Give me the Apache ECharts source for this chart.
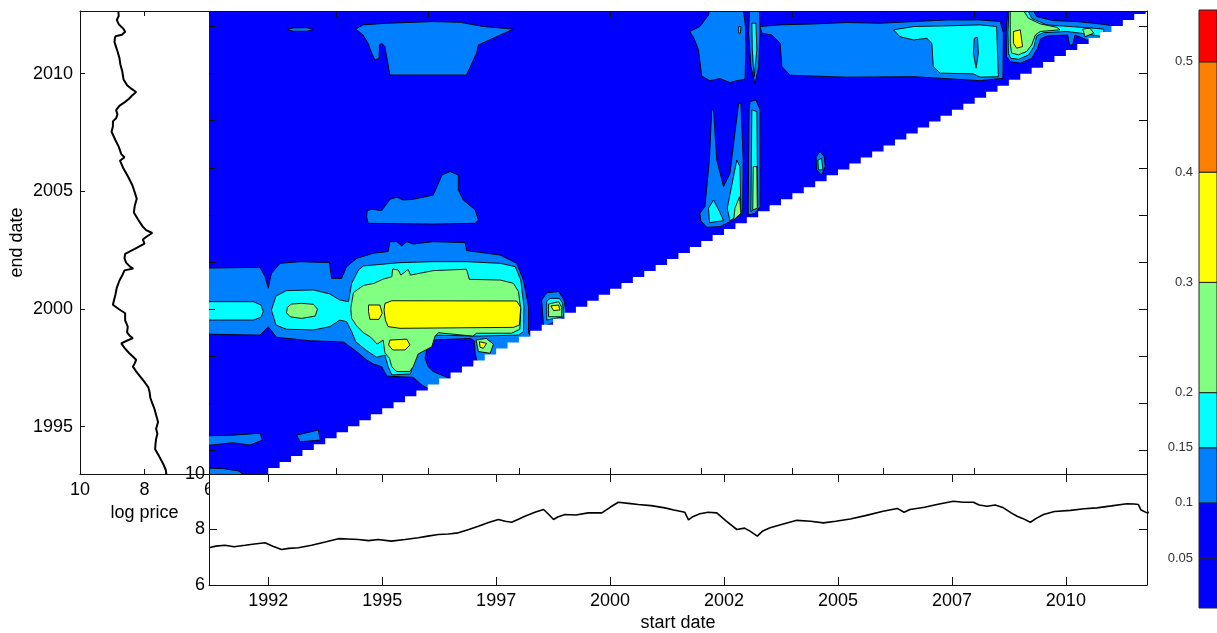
<!DOCTYPE html>
<html><head><meta charset="utf-8">
<script src="https://cdn.jsdelivr.net/npm/echarts@6/dist/echarts.min.js"></script>
<style>html,body{margin:0;padding:0;background:#fff}#c{width:1217px;height:633px}</style>
</head><body><div id="c"></div>
<script>
// ---------------- data ----------------
const startRange = [1991.2, 2011.78];
const endRange = [1992.99, 2012.66];
const priceRange = [6, 10];
const mainXTicks = [1992, 1994, 1996, 1998, 2000, 2002, 2004, 2006, 2008, 2010];
const mainYTicks = [1994, 1996, 1998, 2000, 2002, 2004, 2006, 2008, 2010, 2012];
const startLabelTicks = [1992.5, 1995, 1997.5, 2000, 2002.5, 2005, 2007.5, 2010];
const endLabelTicks = [1995, 2000, 2005, 2010];
const levels = [0.05, 0.1, 0.15, 0.2, 0.3, 0.4, 0.5];
const cbBounds = [0.0047, 0.05, 0.1, 0.15, 0.2, 0.3, 0.4, 0.5, 0.547];
const levelColors = ['#0000FF', '#0000FF', '#0080FF', '#00FFFF', '#80FF80', '#FFFF00', '#FF8000', '#FF0000'];

const priceYears = [1991.20,1991.35,1991.55,1991.75,1991.99,1992.20,1992.43,1992.60,1992.79,1992.95,
 1993.16,1993.45,1993.75,1994.04,1994.25,1994.48,1994.70,1994.91,1995.20,1995.50,
 1995.79,1996.00,1996.23,1996.45,1996.67,1996.90,1997.11,1997.35,1997.55,1997.70,
 1997.84,1998.00,1998.13,1998.35,1998.54,1998.65,1998.76,1998.85,1999.01,1999.25,
 1999.52,1999.82,2000.00,2000.18,2000.40,2000.62,2000.90,2001.20,2001.40,2001.64,
 2001.72,2001.80,2001.97,2002.15,2002.34,2002.55,2002.78,2002.95,2003.07,2003.23,
 2003.35,2003.51,2003.80,2004.10,2004.40,2004.68,2004.95,2005.27,2005.60,2005.99,
 2006.30,2006.45,2006.58,2006.90,2007.17,2007.53,2007.75,2007.97,2008.10,2008.27,
 2008.45,2008.63,2008.80,2008.93,2009.05,2009.22,2009.35,2009.51,2009.75,2010.10,
 2010.40,2010.68,2011.00,2011.34,2011.50,2011.59,2011.65,2011.78,2011.90,2012.10,
 2012.28,2012.45,2012.66];
const logPrice = [7.34,7.40,7.43,7.38,7.43,7.48,7.52,7.40,7.28,7.32,
 7.34,7.43,7.55,7.67,7.66,7.64,7.60,7.64,7.58,7.64,
 7.70,7.76,7.82,7.84,7.88,8.00,8.12,8.26,8.36,8.30,
 8.26,8.38,8.48,8.62,8.72,8.55,8.36,8.45,8.54,8.52,
 8.60,8.60,8.80,8.98,8.94,8.90,8.86,8.78,8.70,8.62,
 8.35,8.45,8.57,8.62,8.60,8.30,8.00,8.05,7.94,7.76,
 7.95,8.06,8.20,8.33,8.30,8.24,8.30,8.38,8.50,8.66,
 8.76,8.62,8.72,8.80,8.90,9.02,8.98,8.98,8.88,8.84,
 8.88,8.78,8.60,8.48,8.40,8.26,8.40,8.54,8.65,8.69,
 8.75,8.78,8.85,8.93,8.92,8.90,8.70,8.60,8.65,8.80,
 8.86,8.80,8.81];

// contour regions: [start date, end date] vertices
const lbTopEllipse = [[1992.91,2011.87],[1993.05,2011.94],[1993.35,2011.95],[1993.49,2011.87],[1993.35,2011.80],[1993.05,2011.80]];
const lbTopBlob = [[1994.42,2011.89],[1994.58,2012.07],[1995.10,2012.14],[1996.12,2012.21],[1996.71,2012.18],[1997.22,2012.0],[1997.88,2011.89],[1997.59,2011.64],[1997.11,2011.22],[1997.07,2010.87],[1996.85,2009.94],[1995.17,2009.94],[1995.06,2011.15],[1994.99,2011.29],[1994.94,2011.22],[1994.93,2010.65],[1994.84,2010.58],[1994.77,2010.87],[1994.69,2011.29],[1994.58,2011.64]];
const lbMidBlob = [[1994.67,2004.18],[1994.77,2004.24],[1994.99,2004.18],[1995.17,2004.66],[1995.32,2004.75],[1995.46,2004.63],[1995.68,2004.66],[1996.12,2004.84],[1996.25,2005.41],[1996.31,2005.69],[1996.49,2005.84],[1996.67,2005.69],[1996.67,2005.06],[1996.78,2004.63],[1997.04,2004.21],[1997.11,2003.78],[1997.04,2003.64],[1996.12,2003.61],[1994.69,2003.64],[1994.66,2003.92]];
const lbBand = [[1990.9,2001.73],[1992.32,2001.77],[1992.43,2001.37],[1992.50,2000.88],[1992.57,2001.52],[1992.76,2001.94],[1993.20,2002.01],[1993.84,2001.97],[1993.89,2001.30],[1994.11,2001.30],[1994.22,2001.80],[1994.44,2002.15],[1994.81,2002.37],[1995.13,2002.44],[1995.17,2002.86],[1995.32,2002.86],[1995.43,2002.68],[1995.54,2002.86],[1995.68,2002.76],[1996.12,2002.86],[1996.82,2002.82],[1996.85,2002.48],[1997.59,2002.29],[1997.95,2001.94],[1998.10,2001.23],[1998.21,2000.10],[1998.21,1998.97],[1998.68,1997.83],[1996.71,1995.85],[1995.87,1996.77],[1995.68,1997.10],[1995.39,1997.12],[1995.10,1997.15],[1994.99,1997.55],[1994.81,1997.66],[1994.66,1997.83],[1994.44,1998.19],[1994.29,1998.40],[1994.15,1998.60],[1993.42,1998.65],[1992.68,1998.80],[1992.50,1999.25],[1992.32,1998.89],[1990.9,1998.94]];
const darkPocket = [[1995.94,1997.90],[1995.99,1998.47],[1996.09,1998.68],[1996.93,1998.75],[1997.02,1998.65],[1997.04,1998.12],[1997.09,1997.69],[1996.56,1996.98],[1996.12,1997.34],[1996.01,1997.55]];
const cyBandLeft = [[1990.9,2000.31],[1992.17,2000.31],[1992.34,2000.17],[1992.39,1999.89],[1992.34,1999.65],[1992.17,1999.53],[1990.9,1999.53]];
const cyBand = [[1992.57,1999.96],[1992.67,2000.55],[1992.90,2000.78],[1993.49,2000.81],[1993.85,2000.64],[1994.07,2000.38],[1994.26,2000.31],[1994.33,2001.09],[1994.48,2001.66],[1994.59,2001.83],[1995.39,2001.97],[1996.12,2002.01],[1996.85,2002.01],[1997.59,2001.94],[1997.92,2001.80],[1998.04,2001.23],[1998.11,2000.10],[1998.10,1999.04],[1997.99,1998.89],[1997.07,1998.85],[1996.20,1998.89],[1996.03,1998.82],[1995.90,1998.54],[1995.79,1998.19],[1995.68,1997.69],[1995.62,1997.24],[1995.21,1997.20],[1995.13,1997.55],[1995.06,1998.04],[1994.88,1997.95],[1994.66,1998.23],[1994.42,1998.61],[1994.33,1999.04],[1994.22,1999.46],[1994.07,1999.53],[1993.85,1999.25],[1993.49,1999.11],[1992.90,1999.14],[1992.67,1999.32]];
const grBand = [[1994.31,2000.03],[1994.37,2000.70],[1994.59,2001.0],[1994.82,2001.09],[1995.01,2001.26],[1995.21,2001.37],[1995.23,2001.70],[1995.35,2001.66],[1995.41,2001.44],[1995.57,2001.68],[1995.62,2001.44],[1995.83,2001.52],[1996.12,2001.63],[1996.85,2001.69],[1996.91,2001.26],[1997.59,2001.23],[1997.88,2001.09],[1997.99,2000.74],[1998.04,1999.96],[1998.02,1999.14],[1997.84,1998.97],[1997.07,1998.97],[1996.99,1998.85],[1996.23,1998.99],[1996.16,1998.85],[1996.09,1998.40],[1995.79,1998.09],[1995.68,1997.55],[1995.60,1997.34],[1995.32,1997.34],[1995.21,1997.55],[1995.16,1997.90],[1995.06,1998.14],[1995.02,1998.68],[1994.89,1998.51],[1994.75,1998.80],[1994.59,1998.99],[1994.44,1999.28],[1994.33,1999.60]];
const grEllipse = [[1992.92,2000.07],[1993.01,2000.21],[1993.23,2000.24],[1993.49,2000.20],[1993.58,1999.99],[1993.53,1999.70],[1993.23,1999.60],[1992.98,1999.67],[1992.90,1999.84]];
const yeBar = [[1995.06,2000.24],[1995.21,2000.35],[1997.95,2000.34],[1998.04,2000.07],[1998.01,1999.32],[1997.88,1999.22],[1995.39,1999.18],[1995.13,1999.25],[1995.07,1999.53],[1995.04,1999.96]];
const yeSquare = [[1994.70,2000.17],[1994.95,2000.17],[1995.0,1999.82],[1994.93,1999.56],[1994.73,1999.56],[1994.70,1999.89]];
const yeLow = [[1995.17,1998.68],[1995.54,1998.72],[1995.61,1998.47],[1995.50,1998.26],[1995.23,1998.26],[1995.14,1998.47]];
const grNearDiag = [[1997.06,1998.68],[1997.28,1998.75],[1997.44,1998.51],[1997.37,1998.12],[1997.11,1998.19]];
const yeNearDiag = [[1997.13,1998.61],[1997.29,1998.54],[1997.22,1998.33],[1997.15,1998.37]];
const lbSmallBlob = [[1998.50,2000.38],[1998.61,2000.69],[1998.87,2000.74],[1998.99,2000.38],[1999.05,1999.67],[1998.54,1999.25]];
const cySmallBlob = [[1998.61,2000.31],[1998.68,2000.45],[1998.89,2000.45],[1998.96,2000.24],[1998.98,1999.67],[1998.61,1999.53]];
const grSmallBlob = [[1998.65,2000.21],[1998.87,2000.31],[1998.94,2000.07],[1998.94,1999.67],[1998.65,1999.67]];
const yeSmallBlob = [[1998.70,2000.13],[1998.87,2000.17],[1998.90,1999.96],[1998.76,1999.93]];
const lbLowLeft = [[1990.9,1994.60],[1991.73,1994.64],[1992.32,1994.72],[1992.37,1994.43],[1992.10,1994.22],[1991.73,1994.32],[1990.9,1994.15]];
const lbLowMid = [[1993.12,1994.64],[1993.60,1994.86],[1993.64,1994.43],[1993.20,1994.36]];
const lbCorner = [[1990.9,1993.25],[1991.5,1993.22],[1991.85,1993.12],[1992.0,1992.9],[1990.9,1992.9]];
const lbRightBand = [[2003.29,2012.0],[2003.73,2012.07],[2004.46,2012.11],[2005.19,2012.17],[2005.92,2012.14],[2006.66,2012.21],[2007.39,2012.28],[2008.12,2012.28],[2008.56,2012.21],[2008.63,2011.72],[2008.62,2009.80],[2008.12,2009.70],[2006.66,2009.87],[2005.19,2009.85],[2003.95,2009.93],[2003.77,2010.30],[2003.73,2011.29],[2003.55,2011.64],[2003.33,2011.72]];
const lbLobe = [[2001.75,2011.79],[2001.97,2012.0],[2002.16,2012.49],[2002.19,2012.8],[2002.92,2012.8],[2002.97,2012.0],[2002.98,2011.01],[2002.96,2009.76],[2002.78,2009.70],[2002.63,2009.62],[2002.41,2009.79],[2002.19,2009.70],[2002.01,2009.90],[2001.94,2011.01],[2001.84,2011.50]];
const lbStreak = [[2003.06,2012.8],[2003.28,2012.8],[2003.29,2011.72],[2003.26,2010.30],[2003.18,2009.56],[2003.09,2010.30],[2003.04,2011.72]];
const cyStreak = [[2003.11,2012.14],[2003.20,2012.14],[2003.22,2011.01],[2003.16,2009.87],[2003.12,2011.01]];
const cySmallTop = [[2002.82,2012.0],[2002.87,2012.0],[2002.86,2011.72],[2002.82,2011.72]];
const cyTopRight = [[2006.22,2011.86],[2006.66,2012.0],[2007.39,2012.03],[2008.12,2012.07],[2008.48,2012.0],[2008.52,2009.87],[2008.12,2009.85],[2007.97,2009.99],[2007.24,2010.02],[2007.09,2010.30],[2007.06,2011.29],[2006.95,2011.50],[2006.66,2011.43],[2006.36,2011.57]];
const lbInCyan = [[2007.99,2011.50],[2008.06,2011.55],[2008.08,2010.87],[2008.03,2010.23],[2007.97,2010.87]];
const lbTwoProng = [[2001.97,2004.07],[2002.08,2004.35],[2002.18,2006.33],[2002.23,2008.46],[2002.27,2008.46],[2002.34,2006.33],[2002.49,2005.20],[2002.63,2005.77],[2002.82,2008.74],[2002.87,2008.74],[2002.92,2006.33],[2002.91,2004.07],[2002.63,2003.71],[2002.41,2003.50],[2002.12,2003.47],[2001.99,2003.75]];
const cyProngA = [[2002.16,2004.28],[2002.27,2004.63],[2002.40,2004.14],[2002.49,2003.75],[2002.18,2003.67]];
const cyProngB = [[2002.57,2004.28],[2002.78,2006.33],[2002.85,2006.05],[2002.87,2004.07],[2002.63,2003.75]];
const grProng = [[2002.74,2004.28],[2002.84,2004.77],[2002.87,2004.07],[2002.71,2003.78]];
const lbStreak3 = [[2003.07,2008.81],[2003.20,2008.88],[2003.29,2008.46],[2003.29,2004.35],[2003.18,2004.07],[2003.03,2003.99],[2003.05,2008.46]];
const cyStreak3 = [[2003.11,2008.46],[2003.22,2008.39],[2003.24,2004.35],[2003.09,2004.14]];
const grStreak3 = [[2003.14,2006.05],[2003.22,2006.05],[2003.23,2004.28],[2003.13,2004.21]];
const lbSpot = [[2004.52,2006.47],[2004.61,2006.69],[2004.70,2006.47],[2004.72,2006.05],[2004.64,2005.69],[2004.53,2005.91]];
const cySpot = [[2004.56,2006.33],[2004.64,2006.40],[2004.67,2005.91],[2004.57,2005.91]];
const lbCornerTR = [[2008.73,2012.8],[2009.25,2012.8],[2009.36,2012.42],[2009.73,2012.25],[2010.24,2012.21],[2010.75,2012.11],[2011.04,2012.03],[2011.04,2011.29],[2010.46,2011.43],[2010.20,2011.64],[2010.15,2011.22],[2010.08,2011.22],[2010.04,2011.64],[2009.58,2011.60],[2009.44,2011.46],[2009.38,2011.08],[2009.25,2010.65],[2009.0,2010.44],[2008.78,2010.51],[2008.70,2010.72],[2008.69,2011.72]];
const cyCornerTR = [[2008.75,2012.8],[2009.14,2012.8],[2009.25,2012.35],[2009.58,2012.07],[2010.09,2012.0],[2010.61,2011.93],[2010.83,2011.89],[2010.83,2011.57],[2010.31,2011.72],[2010.02,2011.79],[2009.51,2011.74],[2009.36,2011.60],[2009.30,2011.15],[2009.18,2010.79],[2008.96,2010.61],[2008.79,2010.65],[2008.74,2010.87],[2008.73,2011.72]];
const grCornerTR = [[2008.78,2012.8],[2009.03,2012.8],[2009.18,2012.35],[2009.44,2012.11],[2009.80,2011.97],[2009.87,2011.86],[2009.44,2011.79],[2009.33,2011.64],[2009.25,2011.22],[2009.14,2010.94],[2008.96,2010.80],[2008.81,2010.87],[2008.78,2011.29]];
const grTail = [[2010.37,2011.89],[2010.53,2011.93],[2010.61,2011.72],[2010.42,2011.57]];
const yeCornerTR = [[2008.85,2011.79],[2009.0,2011.86],[2009.05,2011.15],[2008.92,2011.08],[2008.85,2011.29]];

// domain edge (no data below the diagonal)
const diagFrom = [1992.25, 1992.99];
const diagTo = [2011.63, 2012.66];
const gridStep = 0.25;

// ---------------- build ----------------
const FONT = '"Liberation Sans", Arial, Helvetica, sans-serif';
const ink = '#111';
const regions = [];
function add(pts, lvl) { regions.push({pts, fill: levelColors[lvl], stroke: '#000', lw: 0.9}); }
regions.push({pts: [[startRange[0]-1, endRange[0]-1],[startRange[1]+1, endRange[0]-1],[startRange[1]+1, endRange[1]+1],[startRange[0]-1, endRange[1]+1]], fill: levelColors[1], stroke: null, lw: 0});
[lbTopEllipse, lbTopBlob, lbMidBlob, lbBand, lbSmallBlob, lbLowLeft, lbLowMid, lbCorner, lbRightBand, lbLobe, lbStreak,
 lbTwoProng, lbStreak3, lbSpot, lbCornerTR].forEach(p => add(p, 2));
add(darkPocket, 1);
[cyBandLeft, cyBand, cySmallBlob, cyStreak, cySmallTop, cyTopRight, cyProngA, cyProngB, cyStreak3, cySpot, cyCornerTR].forEach(p => add(p, 3));
add(lbInCyan, 2);
[grBand, grEllipse, grNearDiag, grSmallBlob, grProng, grStreak3, grCornerTR, grTail].forEach(p => add(p, 4));
[yeBar, yeSquare, yeLow, yeNearDiag, yeSmallBlob, yeCornerTR].forEach(p => add(p, 5));
// white mask below the staircase diagonal
(function(){
  const slope = (diagTo[1]-diagFrom[1])/(diagTo[0]-diagFrom[0]);
  const pts = [[startRange[1]+2, endRange[0]-2], [diagFrom[0], endRange[0]-2]];
  let s = diagFrom[0], e = diagFrom[1];
  pts.push([s, e]);
  while (e < endRange[1] + 0.5) {
    const s2 = s + gridStep, e2 = diagFrom[1] + (s2 - diagFrom[0]) * slope;
    pts.push([s2, e]); pts.push([s2, e2]);
    s = s2; e = e2;
  }
  pts.push([startRange[1]+2, e]);
  regions.push({pts, fill: '#ffffff', stroke: null, lw: 0});
})();

const cbBands = [];
for (let i = 0; i < cbBounds.length - 1; i++) cbBands.push([cbBounds[i], cbBounds[i+1], i]);

function ax(o) {
  const base = {
    type: 'value', z: 10, scale: true,
    splitLine: {show: false},
    axisLine: {show: true, onZero: false, lineStyle: {color: ink, width: 1}},
    axisTick: {show: true, inside: true, length: 6, lineStyle: {color: ink, width: 1}},
    axisLabel: {show: false, color: '#000', fontSize: 18, fontFamily: FONT}
  };
  for (const k in o) {
    if (base[k] && typeof base[k] === 'object' && !Array.isArray(base[k])) base[k] = Object.assign({}, base[k], o[k]);
    else base[k] = o[k];
  }
  return base;
}
const plain = v => String(v);

const option = {
  backgroundColor: '#fff',
  animation: false,
  textStyle: {fontFamily: FONT},
  grid: [
    {left: 209, top: 11, width: 938, height: 463},
    {left: 80, top: 11, width: 129, height: 463},
    {left: 209, top: 474, width: 938, height: 112},
    {left: 1199, top: 10, width: 40, height: 598}
  ],
  // white face of the lower axes box (hides the part of the left panel's "6" that runs under it)
  graphic: [{type: 'rect', z: 3, silent: true, shape: {x: 209.5, y: 475, width: 937, height: 110}, style: {fill: '#fff'}}],
  xAxis: [
    ax({gridIndex: 0, position: 'bottom', min: startRange[0], max: startRange[1], axisLine: {show: false}, axisTick: {customValues: mainXTicks}}),
    ax({gridIndex: 0, position: 'top', min: startRange[0], max: startRange[1], axisTick: {customValues: mainXTicks}}),
    ax({gridIndex: 1, position: 'bottom', z: 2, min: priceRange[0], max: priceRange[1], interval: 2, inverse: true,
        axisTick: {length: 5}, axisLabel: {show: true, margin: 7, showMinLabel: true, showMaxLabel: true, formatter: plain},
        name: 'log price', nameLocation: 'middle', nameGap: 30, nameTextStyle: {fontSize: 18, color: '#000', fontFamily: FONT}}),
    ax({gridIndex: 1, position: 'top', min: priceRange[0], max: priceRange[1], interval: 2, inverse: true, axisTick: {length: 5}}),
    ax({gridIndex: 2, position: 'bottom', min: startRange[0], max: startRange[1],
        axisTick: {customValues: startLabelTicks, length: 8},
        axisLabel: {show: true, margin: 7, customValues: startLabelTicks, formatter: v => String(Math.floor(v))},
        name: 'start date', nameLocation: 'middle', nameGap: 29, nameTextStyle: {fontSize: 18, color: '#000', fontFamily: FONT}}),
    ax({gridIndex: 2, position: 'top', min: startRange[0], max: startRange[1], axisTick: {customValues: startLabelTicks, length: 8}}),
    {type: 'value', gridIndex: 3, min: 0, max: 1, show: false}
  ],
  yAxis: [
    ax({gridIndex: 0, position: 'left', min: endRange[0], max: endRange[1], axisLine: {show: false}, axisTick: {customValues: mainYTicks}}),
    ax({gridIndex: 0, position: 'right', min: endRange[0], max: endRange[1], axisTick: {customValues: mainYTicks, length: 8}}),
    ax({gridIndex: 1, position: 'left', min: endRange[0], max: endRange[1],
        axisTick: {customValues: endLabelTicks, length: 5},
        axisLabel: {show: true, margin: 7, customValues: endLabelTicks, formatter: plain},
        name: 'end date', nameLocation: 'middle', nameRotate: 90, nameGap: 54, nameTextStyle: {fontSize: 18, color: '#000', fontFamily: FONT}}),
    ax({gridIndex: 2, position: 'left', min: priceRange[0], max: priceRange[1], interval: 2,
        axisTick: {length: 8}, axisLabel: {show: true, margin: 4, showMinLabel: true, showMaxLabel: true, formatter: plain}}),
    ax({gridIndex: 2, position: 'right', min: priceRange[0], max: priceRange[1], interval: 2, axisTick: {length: 8}}),
    {type: 'value', gridIndex: 3, min: cbBounds[0], max: cbBounds[cbBounds.length-1], position: 'left', z: 10,
     axisLine: {show: false}, axisTick: {show: false}, splitLine: {show: false},
     axisLabel: {show: true, customValues: levels, margin: 6, color: '#333', fontSize: 13, fontFamily: FONT,
                 formatter: v => String(+v.toFixed(2))}}
  ],
  series: [
    {
      type: 'custom', xAxisIndex: 0, yAxisIndex: 0, clip: true, silent: true, z: 2,
      data: regions.map((r, i) => [r.pts[0][0], r.pts[0][1], i]),
      renderItem: function (params, api) {
        const r = regions[params.dataIndex];
        return {type: 'polygon', shape: {points: r.pts.map(p => api.coord(p))},
                style: {fill: r.fill, stroke: r.stroke || 'none', lineWidth: r.lw}};
      }
    },
    {
      type: 'line', xAxisIndex: 2, yAxisIndex: 2, clip: true, showSymbol: false, silent: true, z: 4,
      data: priceYears.map((d, i) => [logPrice[i], d]),
      lineStyle: {color: '#000', width: 2}
    },
    {
      type: 'line', xAxisIndex: 4, yAxisIndex: 3, clip: true, showSymbol: false, silent: true, z: 4,
      data: priceYears.map((d, i) => [d, logPrice[i]]),
      lineStyle: {color: '#000', width: 1.6}
    },
    {
      type: 'custom', xAxisIndex: 6, yAxisIndex: 5, clip: false, silent: true, z: 2,
      data: cbBands,
      renderItem: function (params, api) {
        const lo = api.value(0), hi = api.value(1), ci = api.value(2);
        const a = api.coord([0, hi]), b = api.coord([1, lo]);
        return {type: 'rect', shape: {x: a[0], y: a[1], width: b[0]-a[0], height: b[1]-a[1]},
                style: {fill: levelColors[ci], stroke: '#222', lineWidth: 1}};
      }
    }
  ]
};
const chart = echarts.init(document.getElementById('c'), null, {renderer: 'canvas'});
chart.setOption(option);
</script></body></html>
